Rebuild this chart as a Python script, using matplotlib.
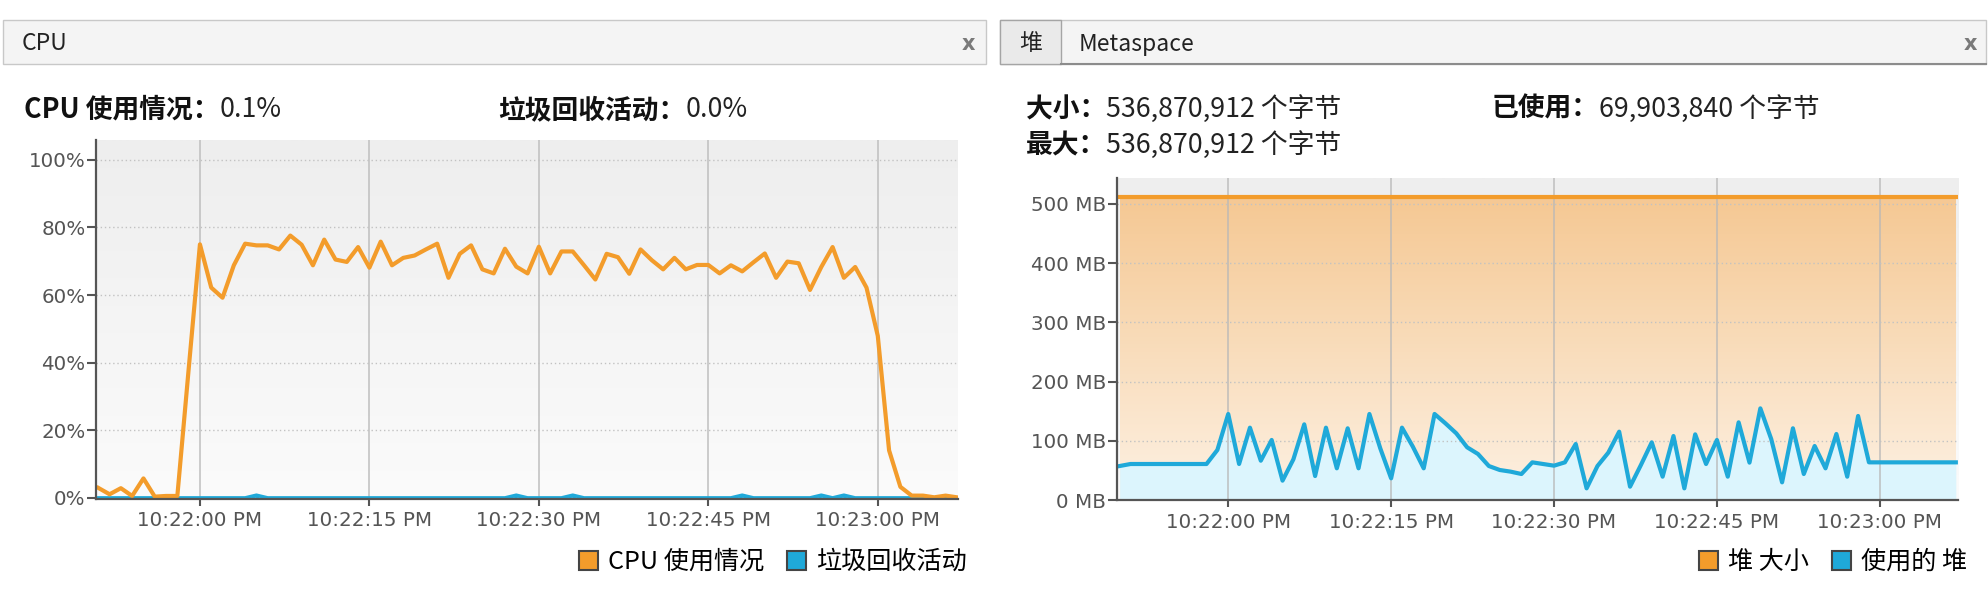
import matplotlib
matplotlib.use('agg')
import matplotlib.pyplot as plt
import matplotlib.dates as mdates
from matplotlib.patches import Rectangle, Patch
from matplotlib.lines import Line2D
from matplotlib.colors import LinearSegmentedColormap
import numpy as np
import pandas as pd

plt.rcParams['font.family'] = ['Noto Sans CJK SC', 'DejaVu Sans']

W, H = 1988, 594

# CPU panel, one sample per second starting 10:21:51 PM
cpu_start = '2024-01-01 22:21:51'
cpu_usage = [2.9, 1.0, 2.8, 0.5, 5.7, 0.3, 0.5, 0.5, 38.0, 75.0,
             62.2, 59.2, 68.8, 75.2, 74.7, 74.7, 73.5, 77.6, 74.9, 68.8,
             76.4, 70.5, 69.8, 74.2, 68.1, 75.8, 68.8, 71.0, 71.7, 73.5,
             75.2, 65.1, 72.2, 74.7, 67.6, 66.4,
             73.7, 68.4, 66.4, 74.3, 66.4, 72.9, 72.9, 68.8, 64.6, 72.2,
             71.2, 66.3, 73.5, 70.3, 67.6, 71.0, 67.6, 68.9, 68.9, 66.4,
             68.8, 67.0, 69.7, 72.3, 65.1, 69.9, 69.4, 61.5, 68.3, 74.2,
             65.1, 68.3, 62.2, 47.9, 14.0, 3.2, 0.6, 0.6, 0.1, 0.6, 0.1]
gc_activity = [0, 0, 0, 0, 0, 0, 0, 0, 0, 0,
               0, 0, 0, 0, 0.8, 0, 0, 0, 0, 0,
               0, 0, 0, 0, 0, 0, 0, 0, 0, 0,
               0, 0, 0, 0, 0, 0, 0, 0.8, 0, 0,
               0, 0, 0.8, 0, 0, 0, 0, 0, 0, 0,
               0, 0, 0, 0, 0, 0, 0, 0.8, 0, 0,
               0, 0, 0, 0, 0.8, 0, 0.8, 0, 0, 0,
               0, 0, 0, 0, 0, 0, 0]

# heap panel, one sample per second starting 10:21:50 PM (MB)
heap_start = '2024-01-01 22:21:50'
heap_used_mb = [57.4, 60.8, 60.8, 60.8, 60.8, 60.8, 60.8, 60.8, 60.8, 84.5,
                145.3, 60.8, 122.2, 66.4, 101.4, 32.7, 68.7, 127.8, 40.5, 122.2,
                53.5, 121.1, 53.5, 145.3, 87.3, 36.6, 122.2, 90.1, 53.5, 145.3,
                129.5, 112.6, 89.0, 77.7, 57.4, 50.7, 47.9, 43.9, 63.6, 60.8,
                58.0, 63.6, 94.6, 19.7, 57.4, 80.0, 115.4, 22.5, 59.1, 97.4,
                39.4, 108.1, 19.7, 110.9, 60.8, 101.4, 39.4, 131.2, 63.1, 154.8,
                103.0, 29.8, 121.1, 43.9, 91.2, 53.5, 111.5, 39.4, 141.9, 63.6,
                63.6, 63.6, 63.6, 63.6, 63.6, 63.6, 63.6, 63.6]
heap_size_mb = [512.0] * 78

cpu_ticks = [0, 20, 40, 60, 80, 100]
heap_ticks = [0, 100, 200, 300, 400, 500]
cpu_legend = ['CPU 使用情况', '垃圾回收活动']
heap_legend = ['堆 大小', '使用的 堆']

ORANGE = '#f39c2b'
BLUE = '#1fa9d9'
TXT = '#555555'


def fx(px):
    return px / W


def fy(py):
    return 1 - py / H


def add_axes(x0, y0, x1, y1):
    return fig.add_axes([fx(x0), fy(y1), (x1 - x0) / W, (y1 - y0) / H])


def style_axes(ax):
    for s in ['top', 'right']:
        ax.spines[s].set_visible(False)
    for s in ['left', 'bottom']:
        ax.spines[s].set_color('#555555')
        ax.spines[s].set_linewidth(1.6)
        ax.spines[s].set_zorder(5)
    ax.tick_params(axis='both', colors='#555555', labelcolor=TXT, labelsize=14.3,
                   width=1.5, labelfontfamily='DejaVu Sans')
    ax.tick_params(axis='y', length=6.5, pad=1)
    ax.tick_params(axis='x', length=5, pad=4)
    ax.xaxis.set_major_locator(mdates.SecondLocator(bysecond=[0, 15, 30, 45]))
    ax.xaxis.set_major_formatter(mdates.DateFormatter('%I:%M:%S %p'))
    ax.set_axisbelow('line')
    ax.grid(axis='x', color='#b8b8b8', lw=1.4, alpha=0.7)
    ax.grid(axis='y', color='#c2c2c2', lw=1.0, ls=(0, (1, 2)))
    ax.set_facecolor('none')


grad = np.linspace(0, 1, 256).reshape(-1, 1)
bg_cmap = LinearSegmentedColormap.from_list('bg', ['#fbfbfb', '#eeeeee'])
heap_cmap = LinearSegmentedColormap.from_list('heap', ['#fdf1e3', '#f5c893'])

fig = plt.figure(figsize=(W / 100, H / 100), dpi=100)

# ---- tab bars ----
fig.add_artist(Rectangle((fx(3), fy(64)), 983 / W, 44 / H, transform=fig.transFigure,
                         facecolor='#f4f4f4', edgecolor='#c8c8c8', lw=1))
fig.text(fx(22), fy(44), 'CPU', fontsize=16.5, color='#222222', va='center')
fig.text(fx(968), fy(44), 'x', fontsize=15, color='#7a7a7a', fontweight='bold',
         va='center', ha='center', family='DejaVu Sans')

fig.add_artist(Rectangle((fx(1000), fy(64)), 986 / W, 44 / H, transform=fig.transFigure,
                         facecolor='#f4f4f4', edgecolor='#c8c8c8', lw=1))
fig.add_artist(Rectangle((fx(1000), fy(64)), 61 / W, 44 / H, transform=fig.transFigure,
                         facecolor='#eaeaea', edgecolor='#a5a5a5', lw=1))
fig.add_artist(Line2D([fx(1061), fx(1986)], [fy(64), fy(64)], transform=fig.transFigure,
                      color='#8c8c8c', lw=1.5))
fig.text(fx(1019), fy(44), '堆', fontsize=16.5, color='#222222', va='center')
fig.text(fx(1079), fy(44), 'Metaspace', fontsize=16.5, color='#222222', va='center')
fig.text(fx(1970), fy(44), 'x', fontsize=15, color='#7a7a7a', fontweight='bold',
         va='center', ha='center', family='DejaVu Sans')


def header(x, y, label, value):
    t = fig.text(fx(x), fy(y), label, fontsize=19.3, fontweight='bold', color='#111111', va='center')
    plt.annotate(value, xy=(1, 0.5), xycoords=t, va='center', ha='left',
                 fontsize=19.3, color='#222222', annotation_clip=False)


# ---- CPU chart ----
ax1 = add_axes(96, 140, 958, 499)
style_axes(ax1)
cpu_times = pd.date_range(cpu_start, periods=len(cpu_usage), freq='s')
ax1.imshow(grad, cmap=bg_cmap, extent=[0, 1, 0, 1], transform=ax1.transAxes,
           aspect='auto', origin='lower', zorder=0)
ax1.fill_between(cpu_times, 0, gc_activity, color=BLUE, lw=0, zorder=1)
ax1.plot(cpu_times, gc_activity, color=BLUE, lw=2.2, zorder=2)
ax1.plot(cpu_times, cpu_usage, color=ORANGE, lw=3, zorder=3)
ref = pd.Timestamp('2024-01-01 22:22:00')
ax1.set_xlim(ref - pd.Timedelta(seconds=9.2), ref + pd.Timedelta(seconds=67.1))
ax1.set_ylim(-0.4, 105.9)
ax1.set_yticks(cpu_ticks)
ax1.set_yticklabels([f'{v}%' for v in cpu_ticks])

# ---- heap chart ----
ax2 = add_axes(1116.7, 178.3, 1958, 500)
style_axes(ax2)
heap_times = pd.date_range(heap_start, periods=len(heap_used_mb), freq='s')
ax2.imshow(grad, cmap=bg_cmap, extent=[0, 1, 0, 1], transform=ax2.transAxes,
           aspect='auto', origin='lower', zorder=0)
size_poly = ax2.fill_between(heap_times, 0, heap_size_mb, color='none', lw=0)
tnum = mdates.date2num(heap_times)
img = ax2.imshow(grad, cmap=heap_cmap, extent=[tnum[0], tnum[-1], 0, max(heap_size_mb)],
                 aspect='auto', origin='lower', zorder=0.8)
img.set_clip_path(size_poly.get_paths()[0], transform=ax2.transData)
ax2.fill_between(heap_times, 0, heap_used_mb, color='#dcf5fd', lw=0, zorder=1)
ax2.plot(heap_times, heap_size_mb, color=ORANGE, lw=3, zorder=3)
ax2.plot(heap_times, heap_used_mb, color=BLUE, lw=3, zorder=3)
ax2.set_xlim(ref - pd.Timedelta(seconds=10.27), ref + pd.Timedelta(seconds=67.2))
ax2.set_ylim(0, 543.4)
ax2.set_yticks(heap_ticks)
ax2.set_yticklabels([f'{v} MB' for v in heap_ticks])

# ---- header lines ----
header(24, 110, 'CPU 使用情况：', '0.1%')
header(498, 110, '垃圾回收活动：', '0.0%')
header(1026, 109, '大小：', '536,870,912 个字节')
header(1026, 145, '最大：', '536,870,912 个字节')
header(1492, 109, '已使用：', '69,903,840 个字节')


# ---- legends ----
def legend(labels, right_px):
    handles = [Patch(facecolor=ORANGE, edgecolor='#444444', lw=1.5),
               Patch(facecolor=BLUE, edgecolor='#444444', lw=1.5)]
    fig.legend(handles, labels, loc='center right', bbox_to_anchor=(fx(right_px), fy(562)),
               ncol=2, frameon=False, fontsize=18.1, handlelength=0.76, handleheight=0.78,
               handletextpad=0.4, columnspacing=0.9, borderpad=0, borderaxespad=0)


legend(cpu_legend, 967)
legend(heap_legend, 1967)

fig.savefig('out.png', dpi=100)
